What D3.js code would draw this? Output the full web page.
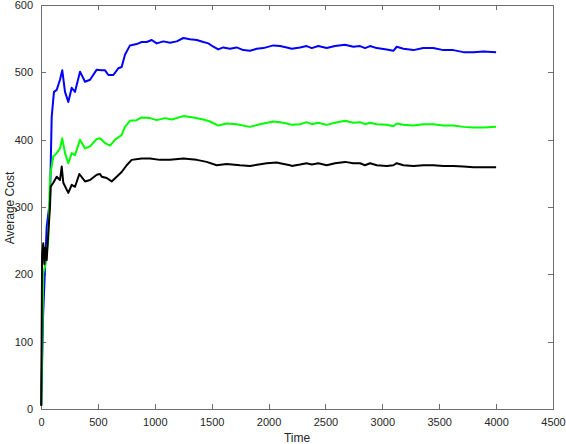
<!DOCTYPE html>
<html><head><meta charset="utf-8">
<script src="https://cdn.jsdelivr.net/npm/d3@7/dist/d3.min.js"></script>
<style>body{margin:0;background:#fff}svg{display:block}text{font-family:"Liberation Sans",Arial,sans-serif}</style>
</head><body><svg id="c" width="566" height="444"></svg>
<script>
const xTicks = [0,500,1000,1500,2000,2500,3000,3500,4000,4500];
const yTicks = [0,100,200,300,400,500,600];
const xLabel = "Time";
const yLabel = "Average Cost";

const blueT = [2,18,50,79,94,114,138,167,187,211,240,270,299,343,387,431,490,534,563,592,636,679,709,738,782,841,885,929,973,1017,1075,1134,1193,1251,1310,1369,1427,1471,1515,1558,1602,1661,1720,1778,1837,1896,1954,2042,2101,2160,2204,2277,2335,2380,2437,2511,2584,2672,2745,2804,2848,2892,2951,3039,3097,3127,3185,3273,3360,3448,3536,3624,3712,3800,3888,4000];
const blueV = [5,137,271,310,434,471,474,489,503,471,456,477,471,501,486,489,504,503,503,496,496,506,508,526,540,542,545,545,548,543,546,544,546,551,549,548,545,543,538,534,537,535,537,533,532,535,536,540,539,537,535,537,539,536,539,536,539,541,538,539,536,539,536,534,532,538,535,533,536,536,533,533,530,530,531,530];

const greenT = [2,20,35,64,79,108,138,167,187,211,240,270,299,343,387,431,490,519,563,607,651,709,738,782,841,885,958,1017,1090,1149,1251,1339,1427,1486,1558,1632,1720,1837,1925,2042,2101,2160,2204,2277,2335,2380,2437,2511,2584,2672,2745,2804,2848,2892,2951,3039,3097,3127,3185,3273,3360,3448,3536,3624,3712,3800,3888,4000];
const greenV = [5,202,211,251,345,375,380,387,402,380,365,380,377,400,387,390,401,402,395,391,400,407,419,428,429,433,432,429,432,430,435,433,430,427,421,424,423,419,423,427,426,424,422,423,426,423,425,422,425,428,425,426,423,425,423,422,420,424,422,421,423,423,421,421,419,418,418,419];

const blackT = [2,10,20,30,40,50,64,79,85,108,138,167,182,196,240,270,299,337,387,431,490,519,534,578,621,665,709,753,797,885,958,1046,1134,1251,1369,1456,1544,1632,1749,1837,1984,2072,2101,2189,2204,2277,2335,2380,2437,2511,2584,2672,2745,2804,2848,2892,2951,3039,3097,3127,3185,3273,3360,3448,3536,3624,3712,3800,3888,4000];
const blackV = [5,230,246,215,240,221,261,300,330,336,345,340,360,336,321,333,330,349,338,340,348,349,345,343,338,345,352,362,370,372,372,370,370,372,370,367,362,364,362,361,365,366,365,362,361,363,365,363,365,362,365,367,365,365,362,365,362,361,362,365,362,361,362,362,361,361,360,359,359,359];

const svg = d3.select("#c");
const x = d3.scaleLinear().domain([0,4500]).range([41,553]);
const y = d3.scaleLinear().domain([0,600]).range([409,5]);
const axisColor = "#6e6e6e", textColor = "#262626";

svg.append("rect").attr("x",41).attr("y",5).attr("width",512).attr("height",404)
  .attr("fill","none").attr("stroke",axisColor).attr("stroke-width",1).attr("shape-rendering","crispEdges");

const gx = svg.append("g").attr("transform","translate(0,409)")
  .call(d3.axisBottom(x).tickValues(xTicks).tickSizeInner(-5).tickSizeOuter(0).tickPadding(9).tickFormat(d3.format("d")));
const gxt = svg.append("g").attr("transform","translate(0,5)")
  .call(d3.axisTop(x).tickValues(xTicks).tickSizeInner(-5).tickSizeOuter(0).tickFormat(""));
const gy = svg.append("g").attr("transform","translate(41,0)")
  .call(d3.axisLeft(y).tickValues(yTicks).tickSizeInner(-5).tickSizeOuter(0).tickPadding(8).tickFormat(d3.format("d")));
const gyr = svg.append("g").attr("transform","translate(553,0)")
  .call(d3.axisRight(y).tickValues(yTicks).tickSizeInner(-5).tickSizeOuter(0).tickFormat(""));
[gx,gxt,gy,gyr].forEach(g=>{
  g.select(".domain").remove();
  g.selectAll("line").attr("stroke",axisColor).attr("shape-rendering","crispEdges");
  g.selectAll("text").attr("fill",textColor).style("font-size","11px");
});

svg.append("text").attr("x",297).attr("y",442).attr("text-anchor","middle")
  .attr("fill",textColor).style("font-size","12px").text(xLabel);
svg.append("text").attr("transform","translate(14,208) rotate(-90)").attr("text-anchor","middle")
  .attr("fill",textColor).style("font-size","12px").text(yLabel);

const line = d3.line().x(d=>x(d[0])).y(d=>y(d[1]));
const series = [[blueT,blueV,"#0000ff"],[greenT,greenV,"#00ff00"],[blackT,blackV,"#000000"]];
series.forEach(([t,v,c])=>{
  svg.append("path").datum(t.map((d,i)=>[d,v[i]]))
    .attr("d",line).attr("fill","none").attr("stroke",c).attr("stroke-width",2).attr("stroke-linejoin","round");
});
</script></body></html>
